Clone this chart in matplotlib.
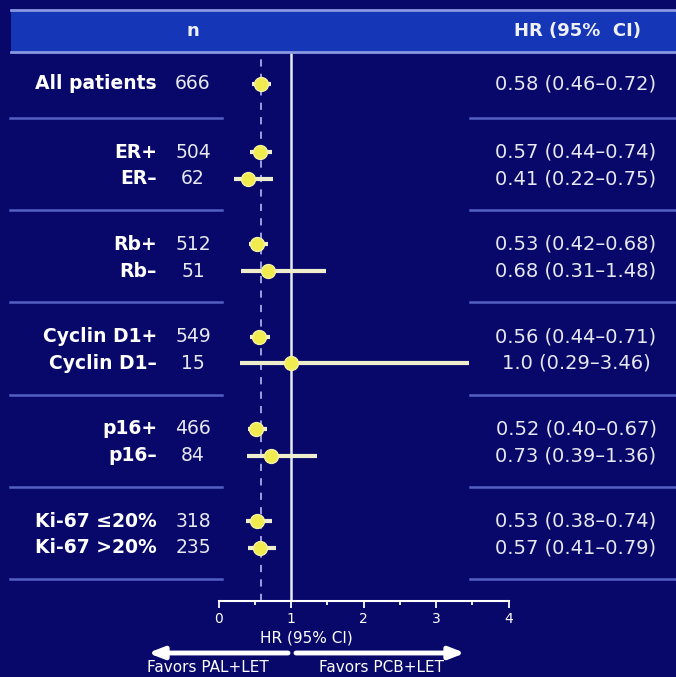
import matplotlib
matplotlib.use('Agg')
import matplotlib.pyplot as plt
from matplotlib.patches import Rectangle
from matplotlib.transforms import blended_transform_factory

labels = ['All patients', 'ER+', 'ER–', 'Rb+', 'Rb–', 'Cyclin D1+', 'Cyclin D1–',
          'p16+', 'p16–', 'Ki-67 ≤20%', 'Ki-67 >20%']
n = [666, 504, 62, 512, 51, 549, 15, 466, 84, 318, 235]
hr = [0.58, 0.57, 0.41, 0.53, 0.68, 0.56, 1.0, 0.52, 0.73, 0.53, 0.57]
lo = [0.46, 0.44, 0.22, 0.42, 0.31, 0.44, 0.29, 0.40, 0.39, 0.38, 0.41]
hi = [0.72, 0.74, 0.75, 0.68, 1.48, 0.71, 3.46, 0.67, 1.36, 0.74, 0.79]
hr_text = ['0.58 (0.46–0.72)', '0.57 (0.44–0.74)', '0.41 (0.22–0.75)',
           '0.53 (0.42–0.68)', '0.68 (0.31–1.48)', '0.56 (0.44–0.71)',
           '1.0 (0.29–3.46)', '0.52 (0.40–0.67)', '0.73 (0.39–1.36)',
           '0.53 (0.38–0.74)', '0.57 (0.41–0.79)']
group = [0, 1, 1, 2, 2, 3, 3, 4, 4, 5, 5]
overall_hr = 0.58

bg = '#07086a'
W, H = 676, 677

# row positions: groups separated at integer y
ys = []
for i, g in enumerate(group):
    if g == 0:
        ys.append(-0.37)
    else:
        k = 0 if group[i - 1] != g else 1
        ys.append((g - 1) + 0.37 + 0.29 * k)

fig = plt.figure(figsize=(W / 100, H / 100), dpi=100)
fig.patch.set_facecolor(bg)

def fx(px):
    return px / W

def fy(py):
    return 1 - py / H

# header band
fig.patches.append(Rectangle((fx(11), fy(52)), 1 - fx(11), fy(10) - fy(52),
                             transform=fig.transFigure, facecolor='#1636b8',
                             edgecolor='none', zorder=0))
for py in [10, 52]:
    fig.add_artist(plt.Line2D([fx(11), 1], [fy(py), fy(py)], transform=fig.transFigure,
                              color='#8a98e0', lw=2))
fig.text(fx(193), fy(31), 'n', color='#f0f0f8', fontsize=13, fontweight='bold',
         ha='center', va='center')
fig.text(fx(577), fy(31), 'HR (95%  CI)', color='#f0f0f8', fontsize=13,
         fontweight='bold', ha='center', va='center')

ax = fig.add_axes([fx(218.5), fy(601), fx(508.5) - fx(218.5), fy(52) - fy(601)])
ax.set_facecolor('none')
ax.set_xlim(0, 4)
ax.set_ylim(5.236, -0.715)
for s in ['top', 'left', 'right']:
    ax.spines[s].set_visible(False)
ax.spines['bottom'].set_color('white')
ax.spines['bottom'].set_linewidth(1.5)
ax.set_yticks([])
ax.set_xticks([0, 1, 2, 3, 4])
ax.set_xticks([0.5, 1.5, 2.5, 3.5], minor=True)
ax.tick_params(axis='x', which='major', colors='white', length=5, width=1.3,
               labelsize=10, pad=3)
ax.tick_params(axis='x', which='minor', colors='white', length=3, width=1.3)

ax.axvline(1, color='#e8e8f0', lw=1.8, zorder=1)
ax.axvline(overall_hr, color='#a4ace8', lw=1.3, ls=(0, (4, 4)), zorder=1)

ax.hlines(ys, lo, hi, color='#eeeecc', lw=3, zorder=2)
ax.plot(hr, ys, 'o', color='#f0ec50', markeredgecolor='#f6f2a0',
        markeredgewidth=1, markersize=10, zorder=3)

tr = blended_transform_factory(fig.transFigure, ax.transData)
for y, lab, nn, t in zip(ys, labels, n, hr_text):
    ax.text(fx(157), y, lab, transform=tr, color='white', fontsize=13.5,
            fontweight='bold', ha='right', va='center')
    ax.text(fx(193), y, str(nn), transform=tr, color='#e8e8f0', fontsize=13.5,
            ha='center', va='center')
    ax.text(fx(576), y, t, transform=tr, color='#e8e8f0', fontsize=14,
            ha='center', va='center')

# group separators
for g in range(6):
    for x0, x1 in [(10, 222), (470, 676)]:
        ax.plot([fx(x0), fx(x1)], [g, g], transform=tr, color='#5460c4', lw=1.8,
                clip_on=False)

fig.text(fx(306), fy(638), 'HR (95% CI)', color='white', fontsize=11,
         ha='center', va='center')
ax.annotate('', xy=(fx(148), fy(653)), xytext=(fx(288), fy(653)),
            xycoords='figure fraction', textcoords='figure fraction',
            arrowprops=dict(arrowstyle='-|>,head_length=0.9,head_width=0.35',
                            color='white', lw=3.5, shrinkA=0, shrinkB=0))
ax.annotate('', xy=(fx(465), fy(653)), xytext=(fx(296), fy(653)),
            xycoords='figure fraction', textcoords='figure fraction',
            arrowprops=dict(arrowstyle='-|>,head_length=0.9,head_width=0.35',
                            color='white', lw=3.5, shrinkA=0, shrinkB=0))
fig.text(fx(208), fy(668), 'Favors PAL+LET', color='white', fontsize=11,
         ha='center', va='center')
fig.text(fx(381), fy(668), 'Favors PCB+LET', color='white', fontsize=11,
         ha='center', va='center')

fig.savefig('out.png', dpi=100, facecolor=bg)
